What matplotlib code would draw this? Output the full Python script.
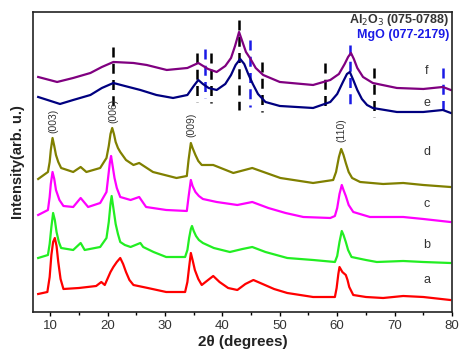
import matplotlib
matplotlib.use("Agg")
import matplotlib.pyplot as plt
from matplotlib.ticker import MultipleLocator

plt.rcParams['font.family'] = ['Liberation Sans', 'DejaVu Sans']

# 2theta / intensity (arb. units, offsets included)
a_x = [7.9, 9.5, 9.9, 10.2, 10.5, 10.8, 11.1, 11.4, 11.8, 12.3, 15, 18, 18.9, 19.5, 20.5, 21.0, 21.6, 22.2,
       22.7, 23.2, 23.8, 24.5, 27, 30.2, 33.5, 33.9, 34.2, 34.5, 34.8, 35.2, 35.8, 36.4, 37.5, 38.4, 39.5,
       41, 42.6, 44, 45.4, 47, 49, 51.3, 55.8, 59.6, 59.9, 60.2, 60.4, 60.7, 60.9, 61.5, 61.8, 62.1, 62.8,
       65, 68, 71.5, 75, 79.7]
a_y = [18, 20, 35, 57, 70, 74, 66, 50, 33, 23, 24, 26, 30, 27, 40, 45, 50, 54,
       48, 40, 32, 27, 24, 20, 20, 30, 45, 59, 52, 42, 33, 27, 32, 36, 30,
       24, 22, 28, 32, 28, 23, 19, 15, 15, 24, 38, 45, 42, 40, 37, 32, 25, 17,
       15, 14, 16, 15, 12]

b_x = [7.9, 9.6, 9.9, 10.2, 10.5, 10.8, 11.1, 11.5, 11.9, 14, 15.3, 16, 18.7, 19.8, 20.2, 20.5, 20.7,
       21.0, 21.4, 21.8, 22.2, 23, 24, 25.7, 26.2, 28, 30.2, 33.5, 33.9, 34.2, 34.5, 34.7, 35.0, 35.4,
       35.9, 36.6, 38.5, 41.3, 43.5, 45.2, 47.5, 51.3, 55.8, 59.6, 60.0, 60.4, 60.8, 61.1, 61.5, 61.9,
       62.5, 65, 66.9, 71.5, 75, 79.7]
b_y = [54, 57, 68, 85, 99, 92, 80, 70, 64, 62, 69, 62, 65, 74, 90, 108, 116,
       104, 88, 78, 70, 67, 65, 69, 65, 60, 55, 55, 62, 74, 83, 86, 81, 76,
       72, 69, 64, 60, 63, 65, 60, 54, 52, 50, 56, 70, 81, 77, 70, 62,
       55, 52, 50, 51, 50, 49]

c_x = [7.9, 9.6, 9.9, 10.1, 10.4, 10.7, 11.0, 11.6, 12.3, 14, 15.3, 16.6, 18.7, 19.8, 20.1, 20.4, 20.6,
       20.9, 21.2, 21.6, 22.2, 24, 25.5, 26.7, 30.2, 33.8, 34.1, 34.5, 34.8, 35.3, 35.9, 36.6, 39, 42.6,
       45.2, 48, 51, 54.1, 58.8, 59.6, 60.0, 60.4, 60.8, 61.1, 61.5, 62.0, 62.8, 65.7, 71.5, 75, 79.7]
c_y = [97, 102, 115, 128, 140, 133, 122, 112, 106, 105, 114, 105, 109, 120, 135, 150, 156,
       145, 134, 124, 115, 112, 115, 105, 102, 101, 115, 132, 126, 120, 116, 113, 110, 107,
       110, 104, 99, 95, 94, 96, 104, 118, 127, 122, 116, 107, 100, 95, 95, 93, 90]

d_x = [7.9, 9.6, 9.9, 10.1, 10.4, 10.7, 11.0, 11.4, 11.9, 14, 15.3, 16.3, 18.7, 19.8, 20.2, 20.5, 20.8,
       21.1, 21.4, 21.8, 22.2, 23.2, 24.5, 25.5, 27.9, 32, 33.8, 34.1, 34.5, 34.8, 35.3, 35.8, 36.4, 38.4,
       41.9, 45.2, 50.1, 55.8, 59.3, 59.8, 60.3, 60.7, 61.1, 61.5, 62.0, 62.6, 64, 68, 71.5, 75, 79.7]
d_y = [133, 140, 150, 162, 174, 166, 157, 150, 144, 140, 145, 140, 144, 154, 166, 178, 184,
       178, 170, 164, 160, 152, 147, 149, 140, 134, 136, 152, 169, 164, 157, 151, 147, 147,
       139, 144, 134, 129, 132, 140, 155, 163, 157, 149, 140, 134, 130, 128, 129, 127, 125]

e_x = [7.9, 11.7, 14, 17, 19, 21, 23, 25.7, 28.5, 31.4, 33.9, 35.0, 35.8, 36.6, 37.6, 39, 40.5, 41.5,
       42.3, 43.1, 43.8, 44.5, 45.3, 46.2, 47.5, 50, 55.8, 58.8, 60.0, 61.0, 61.7, 62.2, 62.8, 63.5,
       64.3, 65.2, 66.2, 70.4, 75, 78.4, 79.8]
e_y = [215, 208, 212, 217, 224, 229, 226, 222, 217, 214, 217, 226, 232, 228, 224, 222, 228, 237,
       247, 253, 248, 238, 228, 218, 210, 206, 204, 210, 218, 230, 238, 240, 232, 222,
       213, 207, 204, 200, 200, 202, 199]

f_x = [7.9, 11.2, 14, 17, 19, 21, 24.5, 26.8, 30.3, 33.9, 35.8, 37.5, 39, 40.5, 41.5, 42.2, 42.9, 43.5,
       44.1, 44.8, 45.8, 47.1, 50, 55.8, 58.8, 60.3, 61.3, 61.9, 62.4, 62.9, 63.5, 64.5, 66.2, 70.4, 75,
       78.4, 79.8]
f_y = [235, 230, 234, 239, 245, 250, 249, 247, 242, 244, 249, 243, 240, 246, 254, 266, 280, 270,
       260, 254, 244, 237, 230, 227, 232, 238, 248, 255, 259, 253, 244, 235, 229, 224, 223,
       225, 222]

# reference lines: position, top, bottom
al2o3_pos = [21.0, 35.6, 38.0, 42.9, 46.9, 57.9, 66.4]
al2o3_top = [265, 259, 259, 292, 250, 249, 244]
al2o3_bot = [202, 210, 209, 202, 200, 202, 195]
mgo_pos = [37.0, 44.8, 62.3, 78.4]
mgo_top = [263, 272, 267, 244]
mgo_bot = [214, 205, 202, 200]

hkl_labels = ['(003)', '(006)', '(009)', '(110)']
hkl_pos = [10.5, 21.0, 34.6, 60.8]
hkl_y = [191, 201, 187, 182]

sample_labels = ['a', 'b', 'c', 'd', 'e', 'f']
sample_y = [32, 67, 108, 160, 209, 241]

fig = plt.figure(figsize=(4.65, 3.63), dpi=100)
ax = fig.add_axes([0.071, 0.1405, 0.901, 0.8265])

# reference markers behind the curves
for p, t, b in zip(al2o3_pos, al2o3_top, al2o3_bot):
    ax.plot([p, p], [t, b], color='black', lw=1.8, linestyle=(0, (4, 2.5)), zorder=1)
for p, t, b in zip(mgo_pos, mgo_top, mgo_bot):
    ax.plot([p, p], [t, b], color='#1a1ae6', lw=1.8, linestyle=(0, (4, 2.5)), zorder=1)

ax.plot(a_x, a_y, color='#ff0000', lw=1.6, zorder=2)
ax.plot(b_x, b_y, color='#22ee22', lw=1.6, zorder=2)
ax.plot(c_x, c_y, color='#ff00ff', lw=1.6, zorder=2)
ax.plot(d_x, d_y, color='#808000', lw=1.6, zorder=2)
ax.plot(e_x, e_y, color='#000080', lw=1.6, zorder=2)
ax.plot(f_x, f_y, color='#800080', lw=1.6, zorder=2)

for lab, p, y in zip(hkl_labels, hkl_pos, hkl_y):
    ax.text(p, y, lab, rotation=90, ha='center', va='center', fontsize=7.5, color='#333333')

for lab, y in zip(sample_labels, sample_y):
    ax.text(75.6, y, lab, ha='center', va='center', fontsize=9, color='#333333')

ax.text(79.6, 292, 'Al$_2$O$_3$ (075-0788)', ha='right', va='center', fontsize=9,
        fontweight='bold', color='#333333')
ax.text(79.6, 277, 'MgO (077-2179)', ha='right', va='center', fontsize=9,
        fontweight='bold', color='#1a1ae6')

ax.set_xlim(7, 80)
ax.set_ylim(0, 300)
ax.set_yticks([])
ax.xaxis.set_major_locator(MultipleLocator(10))
ax.xaxis.set_minor_locator(MultipleLocator(5))
ax.tick_params(axis='x', which='major', direction='out', length=3, width=1, labelsize=9.5,
               labelcolor='#333333', pad=3)
ax.tick_params(axis='x', which='minor', direction='out', length=2, width=1)
for s in ax.spines.values():
    s.set_linewidth(1.2)
    s.set_color('#222222')

ax.set_xlabel('2θ (degrees)', fontsize=11, fontweight='bold', color='#222222', labelpad=2)
ax.set_ylabel('Intensity(arb. u.)', fontsize=10.5, fontweight='bold', color='#222222', labelpad=6)

fig.savefig('out.png', dpi=100)
